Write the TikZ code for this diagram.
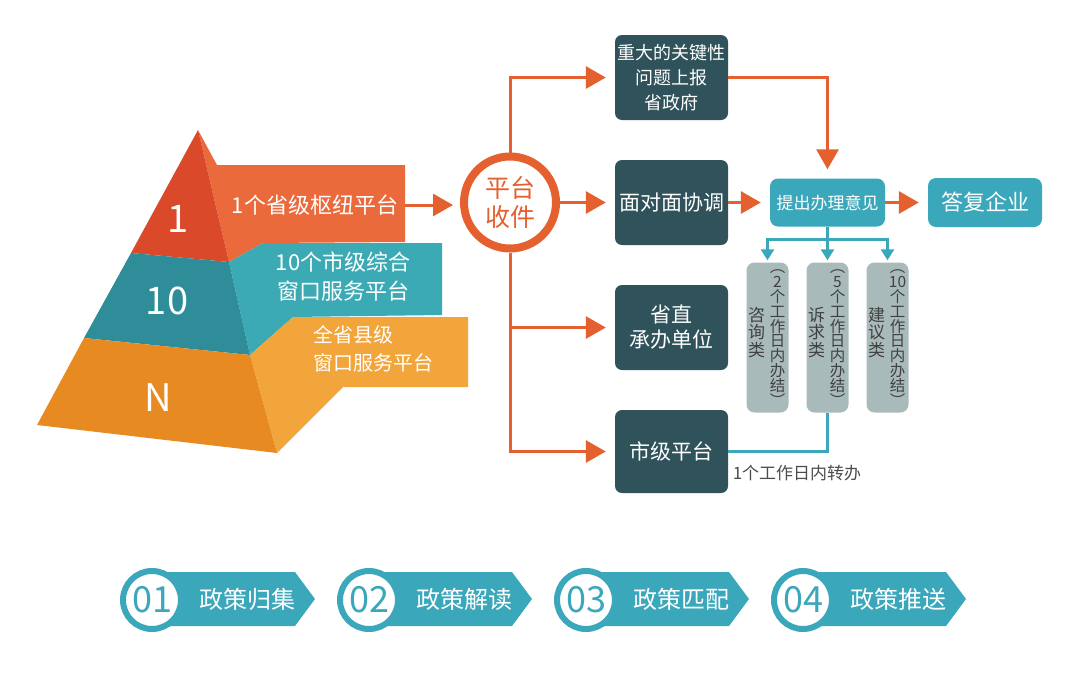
\documentclass[tikz,border=0pt]{standalone}
\usepackage{fontspec}
\setmainfont{Noto Sans CJK SC}
\usetikzlibrary{arrows.meta,calc,positioning}

\definecolor{hubred}{HTML}{E4602E}
\definecolor{slate}{HTML}{30525A}
\definecolor{cyanbox}{HTML}{3BA7BA}
\definecolor{pillgray}{HTML}{A9BABB}
\definecolor{topleft}{HTML}{DA4A2A}
\definecolor{topband}{HTML}{EA6A3C}
\definecolor{midleft}{HTML}{2F8D99}
\definecolor{midband}{HTML}{3CAAB4}
\definecolor{botleft}{HTML}{E88A22}
\definecolor{botband}{HTML}{F2A53B}

\begin{document}
\begin{tikzpicture}[x=1pt,y=-1pt,
  oarrow/.style={draw=hubred, line width=3pt, -{Triangle[length=20pt,width=22pt]}, shorten >=9pt},
  tarrow/.style={draw=cyanbox, line width=3pt, -{Triangle[length=11pt,width=13pt]}, shorten >=2pt},
  tline/.style={draw=cyanbox, line width=3pt},
  darkbox/.style={fill=slate, rounded corners=7pt, text=white, minimum width=113pt,
    minimum height=85pt, align=center, inner sep=2pt, font=\fontsize{21}{25}\selectfont},
  idbox/.style={fill=cyanbox, rounded corners=8pt, text=white, minimum width=115pt,
    minimum height=48pt, inner sep=2pt},
  pill/.style={fill=pillgray, rounded corners=8pt, minimum width=42pt, minimum height=150pt},
  pilltext/.style={align=center, inner sep=0pt, text=black!75, font=\fontsize{15.5}{14.8}\selectfont},
  bigdigit/.style={text=white, font=\fontsize{38}{38}\selectfont},
  bandtext/.style={text=white, align=center, font=\fontsize{22}{29}\selectfont},
  numring/.style={circle, fill=white, draw=cyanbox, line width=6pt, minimum size=58pt,
    inner sep=0pt, text=cyanbox, font=\fontsize{36}{36}\selectfont},
  tagtext/.style={text=white, font=\fontsize{24}{24}\selectfont}]
  \useasboundingbox (0,0) rectangle (1080,691);

  % pyramid
  \coordinate (A) at (198,130);
  \coordinate (L1) at (131,253);
  \coordinate (L2) at (84,338);
  \coordinate (BL) at (37,425);
  \coordinate (R1) at (229,262);
  \coordinate (R2) at (250,355);
  \coordinate (R) at (277,453);
  \fill[topband] (A) -- (217,165) -- (405,165) -- (405,242) -- (263,243) -- (R1) -- cycle;
  \fill[midband] (R1) -- (263,243) -- (442,243) -- (442,315) -- (293,317) -- (R2) -- cycle;
  \fill[botband] (R2) -- (293,317) -- (468,317) -- (468,387) -- (343,387) -- (R) -- cycle;
  \fill[topleft] (A) -- (L1) -- (R1) -- cycle;
  \fill[midleft] (L1) -- (L2) -- (R2) -- (R1) -- cycle;
  \fill[botleft] (L2) -- (BL) -- (R) -- (R2) -- cycle;
  \node[bigdigit] (one) at (178,219) {1};
  \node[bigdigit] (ten) at (167,301) {10};
  \node[bigdigit] (enn) at (158,398) {N};
  \node[bandtext] (prov) at (315,205) {1个省级枢纽平台};
  \node[bandtext] (cities) at (343,277) {10个市级综合\\窗口服务平台};
  \node[bandtext, anchor=west, align=left, font=\fontsize{20}{28}\selectfont] (counties) at (310,349) {全省县级\\窗口服务平台};
  \coordinate (band1) at (405,205);

  % flow
  \node[circle, draw=hubred, line width=8pt, fill=white, minimum size=92pt, inner sep=0pt,
    text=hubred, align=center, font=\fontsize{25}{29}\selectfont] (hub) at (510,202.5) {平台\\收件};
  \node[darkbox, font=\fontsize{18}{25}\selectfont] (report) at (671.5,77.5) {重大的关键性\\问题上报\\省政府};
  \node[darkbox] (meet) at (671.5,202.5) {面对面协调};
  \node[darkbox] (dept) at (671.5,327.5) {省直\\承办单位};
  \node[darkbox, minimum height=83pt] (city) at (671.5,451.5) {市级平台};
  \node[idbox, font=\fontsize{17}{20}\selectfont] (idea) at (827.5,202.5) {提出办理意见};
  \node[idbox, minimum width=114pt, minimum height=49pt, font=\fontsize{22}{24}\selectfont] (reply) at (985,202.5) {答复企业};

  \draw[oarrow, shorten >=7pt] (band1) -- (band1 -| hub.west);
  \draw[oarrow] (hub.north) |- (report.west);
  \draw[oarrow] (hub.east) -- (meet.west);
  \draw[oarrow] (hub.south) |- (dept.west);
  \draw[oarrow] (hub.south) |- (city.west);
  \draw[oarrow] (meet.east) -- (idea.west);
  \draw[oarrow] (report.east) -| (idea.north);
  \draw[oarrow] (idea.east) -- (reply.west);

  \foreach \i/\px/\days/\kind in {1/767.5/2/{咨\\询\\类}, 2/827.5/5/{诉\\求\\类}, 3/887.5/10/{建\\议\\类}}
  {
    \node[pill] (pill\i) at (\px,337.5) {};
    \node[pilltext] (days\i) at ($(pill\i.center)+(10,0.5)$) {︵\\\days\\个\\工\\作\\日\\内\\办\\结\\︶};
    \node[pilltext, font=\fontsize{17}{17.5}\selectfont] (kind\i) at ($(pill\i.center)+(-11,-5)$) {\kind};
  }
  \draw[tarrow] (idea.south) -- ++(0,13) -| (pill1.north);
  \draw[tarrow] (idea.south) -- ++(0,13) -| (pill3.north);
  \draw[tarrow] (idea.south) -- (pill2.north);
  \draw[tline] (pill2.south) |- (city.east);
  \node[text=black!70, font=\fontsize{17}{20}\selectfont] (transfer) at (797,473) {1个工作日内转办};

  % steps
  \foreach \i/\cx/\txt in {1/152/政策归集, 2/369/政策解读, 3/586/政策匹配, 4/803/政策推送}
  {
    \fill[cyanbox] (\cx,572) -- (\cx+143,572) -- (\cx+163,599) -- (\cx+143,626) -- (\cx,626) -- cycle;
    \node[numring] (ring\i) at (\cx,600) {0\i};
    \node[tagtext] (tag\i) at (\cx+95,599) {\txt};
  }
\end{tikzpicture}
\end{document}
